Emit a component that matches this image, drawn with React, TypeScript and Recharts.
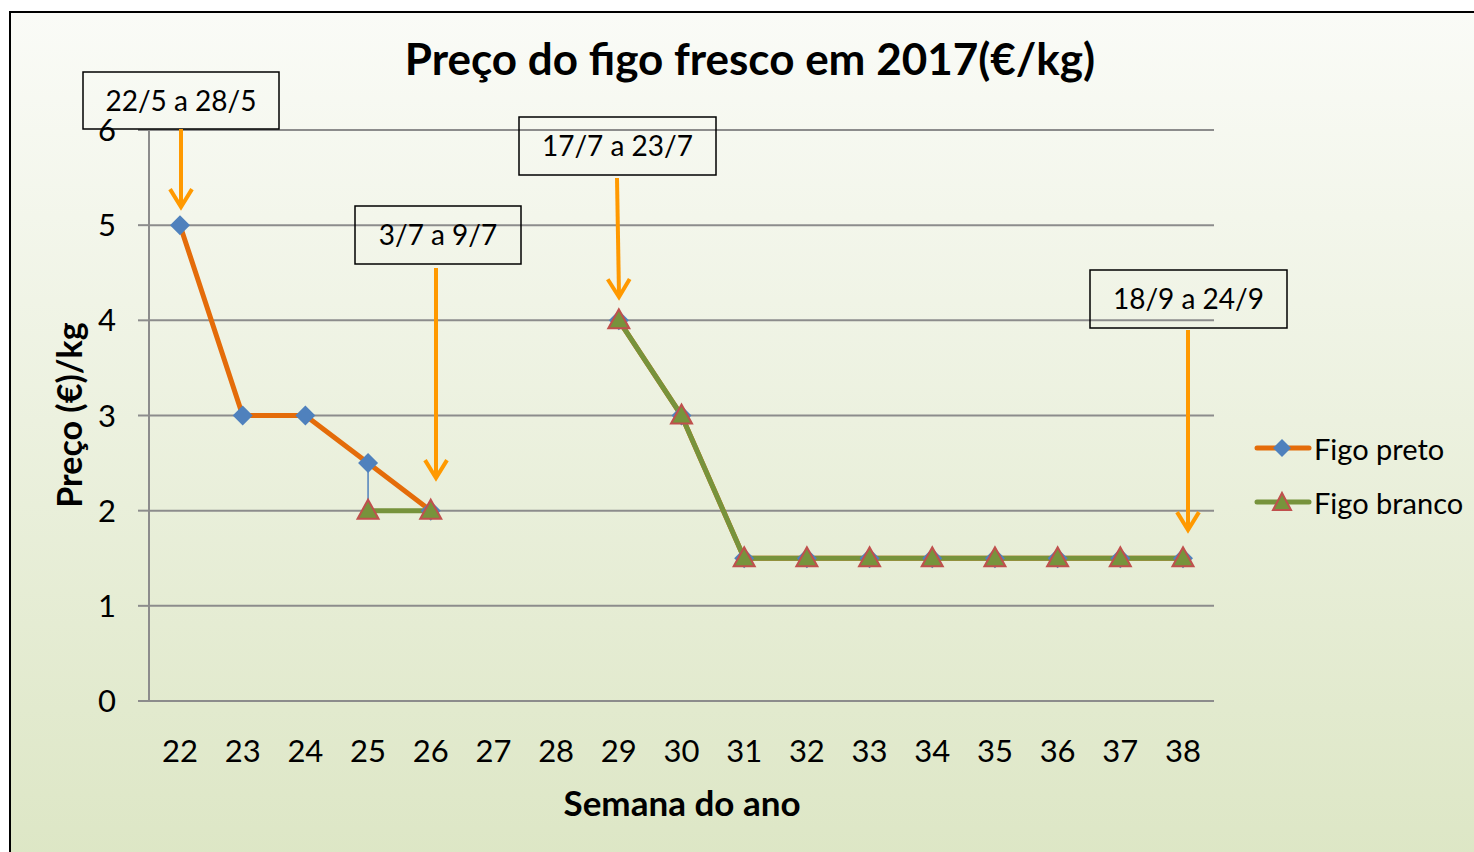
import React from 'react';
import {
  LineChart,
  Line,
  XAxis,
  YAxis,
  CartesianGrid,
  ReferenceLine,
} from 'recharts';

// =============================================================================
// DATA
// =============================================================================

const weeks = ['22', '23', '24', '25', '26', '27', '28', '29', '30', '31', '32', '33', '34', '35', '36', '37', '38'];
const figoPreto = [5, 3, 3, 2.5, 2, null, null, 4, 3, 1.5, 1.5, 1.5, 1.5, 1.5, 1.5, 1.5, 1.5];
const figoBranco = [null, null, null, 2, 2, null, null, 4, 3, 1.5, 1.5, 1.5, 1.5, 1.5, 1.5, 1.5, 1.5];
const yTicks = [0, 1, 2, 3, 4, 5, 6];

const data = weeks.map((week, i) => ({
  week,
  preto: figoPreto[i],
  branco: figoBranco[i],
}));

// =============================================================================
// STYLE
// =============================================================================

const FONT = 'Lato, "Open Sans", sans-serif';
const ORANGE = '#e46c0a';
const GREEN = '#77933c';
const BLUE = '#4f81bd';
const RED = '#c0504d';
const ARROW = '#ff9900';
const GRID = '#8c8c8c';

// =============================================================================
// MARKERS
// =============================================================================

function Diamond({ cx, cy }: { cx?: number; cy?: number }) {
  if (cx == null || cy == null) return null;
  const r = 10;
  return <polygon points={`${cx},${cy - r} ${cx + r},${cy} ${cx},${cy + r} ${cx - r},${cy}`} fill={BLUE} />;
}

function Triangle({ cx, cy }: { cx?: number; cy?: number }) {
  if (cx == null || cy == null) return null;
  return (
    <polygon
      points={`${cx},${cy - 11} ${cx + 10.5},${cy + 8} ${cx - 10.5},${cy + 8}`}
      fill={GREEN}
      stroke={RED}
      strokeWidth={2}
    />
  );
}

// annotation boxes with arrows (pixel layout of the callouts, not data)
const notes = [
  { text: '22/5 a 28/5', box: [83, 72, 196, 57], arrow: [181, 129, 181, 207] },
  { text: '3/7 a 9/7', box: [355, 206, 166, 58], arrow: [436, 268, 436, 478] },
  { text: '17/7 a 23/7', box: [519, 117, 197, 58], arrow: [617, 178, 619, 297] },
  { text: '18/9 a 24/9', box: [1090, 270, 197, 58], arrow: [1188, 330, 1188, 530] },
];

function Arrow({ x1, y1, x2, y2 }: { x1: number; y1: number; x2: number; y2: number }) {
  const ang = Math.atan2(y2 - y1, x2 - x1);
  const len = 21;
  const spread = 0.55;
  const ax = x2 - len * Math.cos(ang - spread);
  const ay = y2 - len * Math.sin(ang - spread);
  const bx = x2 - len * Math.cos(ang + spread);
  const by = y2 - len * Math.sin(ang + spread);
  return (
    <g stroke={ARROW} strokeWidth={4} fill="none">
      <line x1={x1} y1={y1} x2={x2} y2={y2 - 2} />
      <polyline points={`${ax},${ay} ${x2},${y2} ${bx},${by}`} />
    </g>
  );
}

// =============================================================================
// COMPONENT
// =============================================================================

export default function App() {
  return (
    <div style={{ position: 'fixed', left: 0, top: 0, width: 1474, height: 852, background: '#fff', overflow: 'hidden', fontFamily: FONT }}>
      <div
        style={{
          position: 'absolute',
          left: 9,
          top: 11,
          width: 1500,
          height: 900,
          border: '2px solid #000',
          background: 'linear-gradient(#fafbf7, #dbe5c2)',
        }}
      />

      <div style={{ position: 'absolute', left: 0, top: 0 }}>
        <LineChart width={1474} height={852} data={data} margin={{ top: 130, right: 260, bottom: 91, left: 79 }}>
          <CartesianGrid horizontal vertical={false} stroke={GRID} strokeWidth={2} />
          <XAxis
            dataKey="week"
            height={60}
            padding={{ left: 31, right: 31 }}
            axisLine={{ stroke: GRID, strokeWidth: 2 }}
            tickLine={false}
            tickSize={0}
            tickMargin={39}
            interval={0}
            tick={{ fill: '#000', fontSize: 31, fontFamily: FONT }}
          />
          <YAxis
            width={70}
            domain={[0, 6]}
            ticks={yTicks}
            interval={0}
            axisLine={{ stroke: GRID, strokeWidth: 2 }}
            tickLine={{ stroke: GRID, strokeWidth: 2 }}
            tickSize={11}
            tickMargin={22}
            tick={{ fill: '#000', fontSize: 31, fontFamily: FONT }}
          />
          <Line
            dataKey="preto"
            stroke={ORANGE}
            strokeWidth={5}
            dot={<Diamond />}
            activeDot={false}
            isAnimationActive={false}
          />
          <ReferenceLine
            segment={[
              { x: weeks[3], y: figoPreto[3] as number },
              { x: weeks[3], y: figoBranco[3] as number },
            ]}
            stroke={BLUE}
            strokeWidth={1.5}
          />
          <Line
            dataKey="branco"
            stroke={GREEN}
            strokeWidth={5}
            dot={<Triangle />}
            activeDot={false}
            isAnimationActive={false}
          />
        </LineChart>
      </div>

      {/* title and axis titles */}
      <div style={{ position: 'absolute', left: 0, width: 1500, top: 32, textAlign: 'center', fontSize: 44, fontWeight: 700, color: '#000' }}>
        Preço do figo fresco em 2017(€/kg)
      </div>
      <div style={{ position: 'absolute', left: 382, width: 600, top: 781, textAlign: 'center', fontSize: 35, fontWeight: 700, color: '#000' }}>
        Semana do ano
      </div>
      <div
        style={{
          position: 'absolute',
          left: 68,
          top: 415,
          transform: 'translate(-50%, -50%) rotate(-90deg)',
          whiteSpace: 'nowrap',
          fontSize: 34,
          fontWeight: 700,
          color: '#000',
        }}
      >
        Preço (€)/kg
      </div>

      {/* legend */}
      <div style={{ position: 'absolute', left: 1254, top: 428, fontSize: 29, color: '#000' }}>
        {[
          { name: 'Figo preto', color: ORANGE, marker: 'diamond' },
          { name: 'Figo branco', color: GREEN, marker: 'triangle' },
        ].map((item) => (
          <div key={item.name} style={{ display: 'flex', alignItems: 'center', height: 40, marginBottom: 14 }}>
            <svg width={58} height={24}>
              <line x1={3} y1={12} x2={55} y2={12} stroke={item.color} strokeWidth={5} strokeLinecap="round" />
              {item.marker === 'diamond' ? (
                <polygon points="28,3 37,12 28,21 19,12" fill={BLUE} />
              ) : (
                <polygon points="28,3 37,20 19,20" fill={GREEN} stroke={RED} strokeWidth={2} />
              )}
            </svg>
            <span style={{ marginLeft: 2 }}>{item.name}</span>
          </div>
        ))}
      </div>

      {/* callouts */}
      <svg width={1474} height={852} style={{ position: 'absolute', left: 0, top: 0, pointerEvents: 'none' }}>
        {notes.map((n) => (
          <g key={n.text}>
            <rect x={n.box[0]} y={n.box[1]} width={n.box[2]} height={n.box[3]} fill="none" stroke="#000" strokeWidth={1.5} />
            <text
              x={n.box[0] + n.box[2] / 2}
              y={n.box[1] + n.box[3] / 2 + 10}
              textAnchor="middle"
              fontSize={28}
              fontFamily={FONT}
              fill="#000"
            >
              {n.text}
            </text>
            <Arrow x1={n.arrow[0]} y1={n.arrow[1]} x2={n.arrow[2]} y2={n.arrow[3]} />
          </g>
        ))}
      </svg>
    </div>
  );
}
